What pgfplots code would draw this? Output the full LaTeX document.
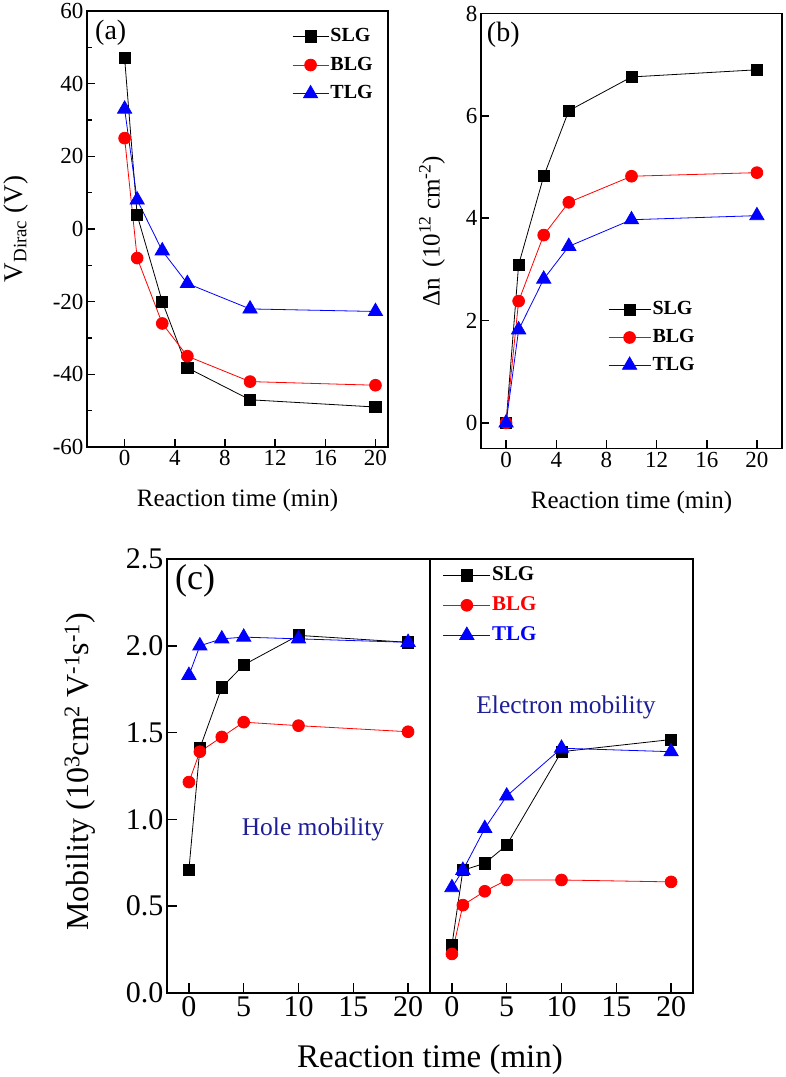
\documentclass[border=0pt]{standalone}
\usepackage{pgfplots}
\pgfplotsset{compat=1.18}
\usepackage{fontspec}
\setmainfont{Liberation Serif}
\definecolor{navy}{RGB}{30,30,150}
\pgfplotsset{
  base/.style={
    scale only axis,
    axis line style={line width=1.5pt},
    every tick/.append style={line width=1.5pt, black},
    tick align=inside,
    xtick pos=left, ytick pos=left,
    major tick length=8pt, minor tick length=5pt,
    /pgf/number format/assume math mode=true,
    legend cell align=left,
    clip=false,
  },
  sS/.style={black, line width=0.8pt, mark=square*, mark size=5.6pt, mark options={solid}},
  sB/.style={red, line width=0.8pt, mark=*, mark size=5.9pt, mark options={solid}},
  sT/.style={blue, line width=0.8pt, mark=triangle*, mark size=8.2pt, mark options={solid}},
  limg/.style={legend image code/.code={\draw[mark repeat=2,mark phase=2,##1] plot coordinates {(0pt,0pt) (#1/2,0pt) (#1,0pt)};}},
}
\begin{document}
\begin{tikzpicture}
\path[use as bounding box] (0,0) rectangle (785pt,1077pt);

% ---------------- (a)
\begin{axis}[base, at={(87pt,630pt)}, anchor=south west, width=301pt, height=436pt,
  xmin=-3, xmax=21, ymin=-60, ymax=60,
  xtick={0,4,8,12,16,20}, ytick={-60,-40,-20,0,20,40,60}, minor y tick num=1,
  tick label style={font=\fontsize{23}{23}\selectfont},
  xlabel={Reaction time (min)}, ylabel={V\textsubscript{Dirac} (V)},
  xlabel style={at={(axis description cs:0.5,-0.122)}, anchor=center, font=\fontsize{25}{25}\selectfont},
  ylabel style={at={(axis description cs:-0.236,0.5)}, anchor=center, font=\fontsize{27}{27}\selectfont},
  limg=36pt,
  legend style={at={(0.671,0.971)}, anchor=north west, draw=none, fill=none,
    font=\bfseries\fontsize{20}{20}\selectfont, row sep=7.7pt,
    nodes={inner sep=1.5pt, text height=14pt, text depth=4pt}},
]
\addplot[sS] coordinates {(0,47) (1,3.8) (3,-20) (5,-38.2) (10,-47) (20,-49)};
\addplot[sB] coordinates {(0,25) (1,-8) (3,-26) (5,-35) (10,-42) (20,-43)};
\addplot[sT] coordinates {(0,33) (1,8) (3,-6) (5,-15) (10,-22) (20,-22.7)};
\legend{SLG,BLG,TLG}
\node[font=\fontsize{28}{28}\selectfont] at (rel axis cs:0.079,0.949) {(a)};
\end{axis}

% ---------------- (b)
\begin{axis}[base, at={(481pt,628.5pt)}, anchor=south west, width=301pt, height=435pt,
  xmin=-2, xmax=22, ymin=-0.5, ymax=8,
  xtick={0,4,8,12,16,20}, ytick={0,2,4,6,8},
  tick label style={font=\fontsize{23}{23}\selectfont},
  xlabel={Reaction time (min)}, ylabel={Δn\, (10\textsuperscript{12} cm\textsuperscript{-2})},
  xlabel style={at={(axis description cs:0.5,-0.125)}, anchor=center, font=\fontsize{25}{25}\selectfont},
  ylabel style={at={(axis description cs:-0.163,0.5)}, anchor=center, font=\fontsize{25}{25}\selectfont},
  limg=42pt,
  legend style={at={(0.412,0.348)}, anchor=north west, draw=none, fill=none,
    font=\bfseries\fontsize{20}{20}\selectfont, row sep=6.7pt,
    nodes={inner sep=1.5pt, text height=14pt, text depth=4pt}},
]
\addplot[sS] coordinates {(0,0) (1,3.09) (3,4.82) (5,6.1) (10,6.76) (20,6.9)};
\addplot[sB] coordinates {(0,0) (1,2.38) (3,3.67) (5,4.31) (10,4.82) (20,4.89)};
\addplot[sT] coordinates {(0,0) (1,1.82) (3,2.81) (5,3.45) (10,3.97) (20,4.05)};
\legend{SLG,BLG,TLG}
\node[font=\fontsize{28}{28}\selectfont] at (rel axis cs:0.074,0.951) {(b)};
\end{axis}

% ---------------- (c) hole
\begin{axis}[base, at={(167pt,84pt)}, anchor=south west, width=263pt, height=434pt,
  xmin=-2, xmax=22, ymin=0, ymax=2.5,
  xtick={0,5,10,15,20}, ytick={0,0.5,1,1.5,2,2.5},
  yticklabel style={/pgf/number format/.cd, fixed, fixed zerofill, precision=1},
  tick label style={font=\fontsize{30}{30}\selectfont},
  major tick length=10pt,
  ylabel={Mobility (10\textsuperscript{3}cm\textsuperscript{2} V\textsuperscript{-1}s\textsuperscript{-1})},
  ylabel style={at={(axis description cs:-0.331,0.51)}, anchor=center, font=\fontsize{32}{32}\selectfont},
  xlabel={Reaction time (min)},
  xlabel style={at={(axis description cs:1.0,-0.154)}, anchor=center, font=\fontsize{33}{33}\selectfont},
]
\addplot[sS] coordinates {(0,0.71) (1,1.41) (3,1.76) (5,1.89) (10,2.06) (20,2.02)};
\addplot[sB] coordinates {(0,1.215) (1,1.39) (3,1.475) (5,1.56) (10,1.54) (20,1.505)};
\addplot[sT] coordinates {(0,1.83) (1,2.0) (3,2.04) (5,2.05) (10,2.04) (20,2.02)};
\node[font=\fontsize{36}{36}\selectfont] at (rel axis cs:0.107,0.95) {(c)};
\node[font=\fontsize{25.5}{25.5}\selectfont, text=navy] at (rel axis cs:0.555,0.376) {Hole mobility};
\end{axis}

% ---------------- (c) electron
\begin{axis}[base, at={(430pt,84pt)}, anchor=south west, width=263pt, height=434pt,
  xmin=-2, xmax=22, ymin=0, ymax=2.5,
  xtick={0,5,10,15,20}, ytick=\empty,
  tick label style={font=\fontsize{30}{30}\selectfont},
  major tick length=10pt,
  limg=47pt,
  legend style={at={(0.037,0.994)}, anchor=north west, draw=none, fill=none,
    font=\bfseries\fontsize{21}{21}\selectfont, row sep=7pt,
    nodes={inner sep=1.5pt, text height=15pt, text depth=5pt}},
]
\addplot[sS] coordinates {(0,0.275) (1,0.707) (3,0.747) (5,0.852) (10,1.39) (20,1.46)};
\addplot[sB] coordinates {(0,0.225) (1,0.506) (3,0.586) (5,0.651) (10,0.651) (20,0.64)};
\addplot[sT] coordinates {(0,0.607) (1,0.707) (3,0.948) (5,1.135) (10,1.41) (20,1.39)};
\legend{SLG,\textcolor{red}{BLG},\textcolor{blue}{TLG}}
\node[font=\fontsize{25.5}{25.5}\selectfont, text=navy] at (rel axis cs:0.517,0.657) {Electron mobility};
\end{axis}
\end{tikzpicture}
\end{document}
